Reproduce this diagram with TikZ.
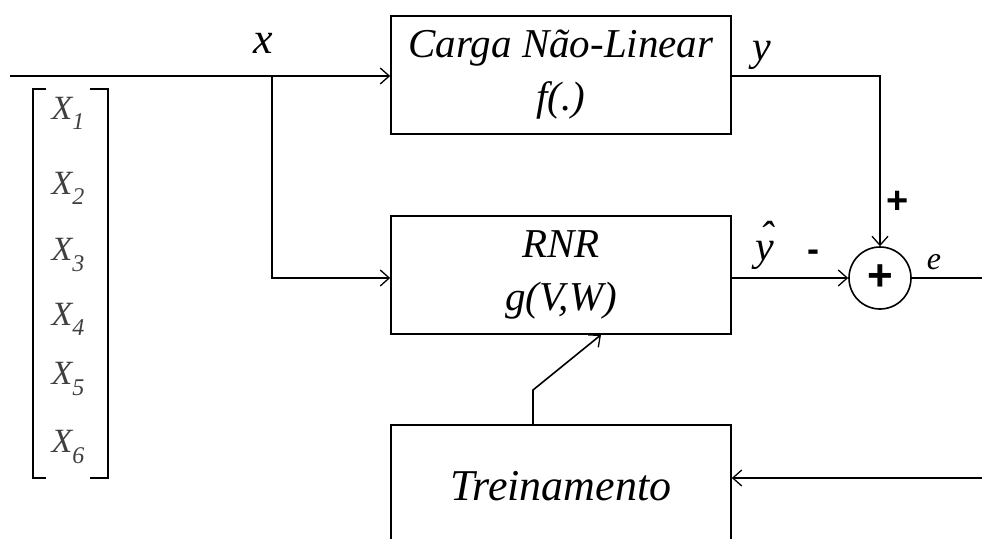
\documentclass[tikz,border=0pt]{standalone}
\usepackage{fontspec}
\setmainfont{Liberation Serif}
\newfontfamily\sansb{Liberation Sans}
\usetikzlibrary{arrows.meta}

\newcommand{\xsub}[1]{\raisebox{-0.3em}{\fontsize{24}{26}\selectfont #1}}

\tikzset{
 bloco/.style={draw, line width=1.6pt, minimum width=340pt, minimum height=118pt,
   inner sep=0pt, align=center, font=\fontsize{41}{53}\selectfont\itshape},
 fio/.style={line width=1.6pt},
 seta/.style={fio, -{Straight Barb[length=9pt,width=16pt,line width=1.3pt]}},
 rot/.style={font=\fontsize{#1}{#1}\selectfont\itshape},
 sinal/.style={font=\fontsize{#1}{#1}\selectfont\sansb\bfseries},
}

\begin{document}
\begin{tikzpicture}[x=1pt,y=-1pt]
 \useasboundingbox (0,0) rectangle (982,538);
 % blocos
 \node[bloco] (carga) at (561,75) {Carga Não-Linear\\f(.)};
 \node[bloco] (rnr) at (561,275) {RNR\\g(V,W)};
 \node[bloco, minimum height=122pt, font=\fontsize{44}{50}\selectfont\itshape] (trein) at (561,486) {Treinamento};
 \node[draw, fio, circle, minimum size=62pt, inner sep=0pt, sinal=44] (soma) at (880,278) {+};
 % pontos livres
 \coordinate (ini) at (10,76);
 \coordinate (ramo) at (272,76);
 \coordinate (esai) at (982,278);
 \coordinate (retorno) at (982,478);
 \coordinate (dobra) at (533,390);
 % ligacoes
 \draw[seta] (ini) -- (ini -| carga.west);
 \draw[seta] (ramo) |- (rnr.west |- soma);
 \draw[seta] (carga.east |- ini) -| (soma.north);
 \draw[seta] (rnr.east |- soma) -- (soma.west);
 \draw[fio] (soma.east) -- (esai);
 \draw[seta] (retorno) -- (retorno -| trein.east);
 \draw[seta] (trein.north -| dobra) -- (dobra) -- (rnr.south -| 601,0);
 % rotulos
 \node[rot=44] (lx) at (263,43) {x};
 \node[rot=42] (ly) at (762,55) {y};
 \node[rot=42] (lyh) at (765,245) {\rlap{\raisebox{0.24em}{\kern0.1em\symbol{"02C6}}}y};
 \node[rot=32] (le) at (934,262) {e};
 \node[sinal=38] (lmais) at (898,202) {+};
 \node[sinal=36] (lmenos) at (813,256) {-};
 % vetor de entradas
 \draw[fio] (46,89) -- (33,89) -- (33,478) -- (46,478);
 \draw[fio] (90,89) -- (108,89) -- (108,478) -- (90,478);
 \foreach \i/\yy in {1/113,2/188,3/255,4/319,5/379,6/447}
  \node[rot=34, text=black!75] (x\i) at (68,\yy) {X\xsub{\i}};
\end{tikzpicture}
\end{document}
